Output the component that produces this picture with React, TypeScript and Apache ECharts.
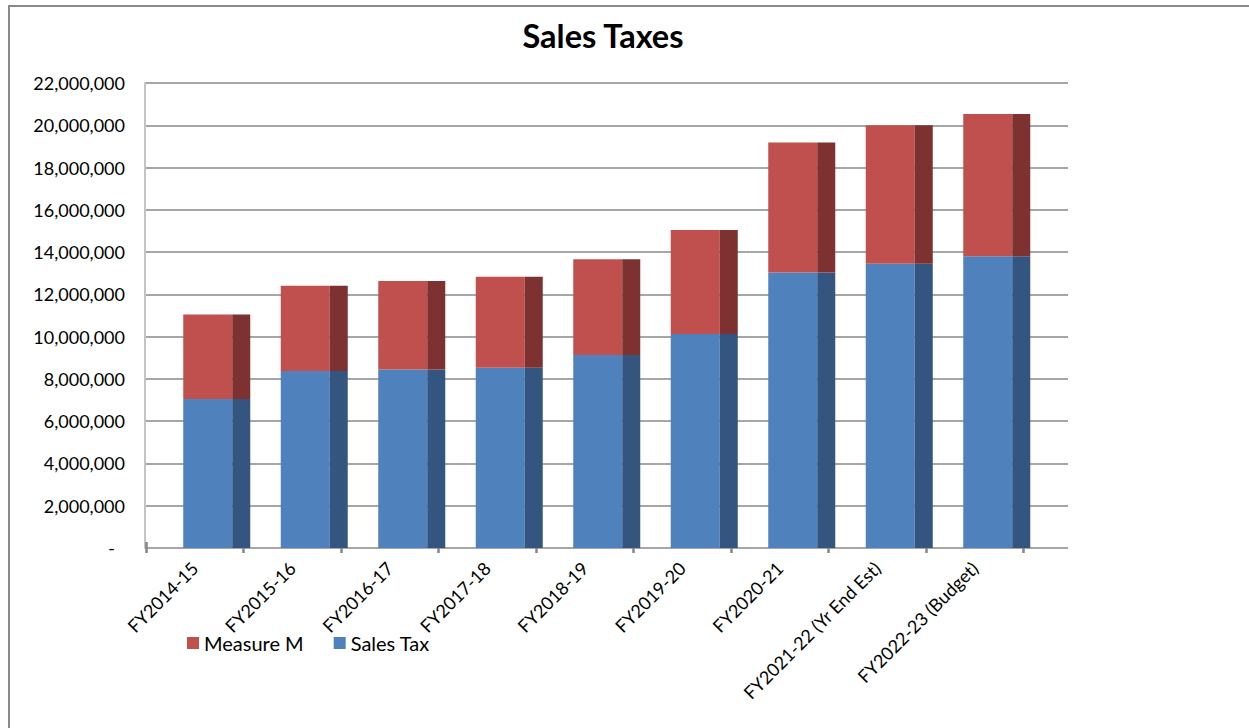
import React, { useEffect, useRef } from "react";
import * as echarts from "echarts";

const categories = [
  "FY2014-15",
  "FY2015-16",
  "FY2016-17",
  "FY2017-18",
  "FY2018-19",
  "FY2019-20",
  "FY2020-21",
  "FY2021-22 (Yr End Est)",
  "FY2022-23 (Budget)",
];
const salesTax = [7050000, 8370000, 8450000, 8530000, 9130000, 10130000, 13040000, 13450000, 13800000];
const measureM = [4000000, 4040000, 4180000, 4300000, 4530000, 4910000, 6150000, 6550000, 6730000];
const yMin = 0;
const yMax = 22000000;
const yStep = 2000000;

const FONT = "Lato";
const RED = "#C0504D";
const RED_SIDE = "#7D3231";
const BLUE = "#4F81BD";
const BLUE_SIDE = "#33557F";

export default function App() {
  const ref = useRef<HTMLDivElement>(null);
  useEffect(() => {
    if (!ref.current) return;
    const chart = echarts.init(ref.current, null, { renderer: "svg" });
    const hiddenY = (gridIndex: number) => ({
      type: "value",
      gridIndex,
      min: yMin,
      max: yMax,
      interval: yStep,
      show: false,
      splitLine: { show: false },
    });
    chart.setOption({
      animation: false,
      backgroundColor: "#ffffff",
      textStyle: { fontFamily: FONT },
      title: {
        text: "Sales Taxes",
        left: 598,
        textAlign: "center",
        top: 14,
        textStyle: { fontFamily: FONT, fontWeight: "bold", fontSize: 32.5, color: "#000" },
      },
      graphic: [
        {
          type: "rect",
          shape: { x: 9, y: 6, width: 1400, height: 900 },
          style: { fill: "none", stroke: "#8a8a8a", lineWidth: 2 },
          silent: true,
        },
      ],
      legend: {
        data: ["Measure M", "Sales Tax"],
        left: 182,
        top: 628,
        itemWidth: 12,
        itemHeight: 12,
        itemGap: 30,
        icon: "rect",
        textStyle: { fontFamily: FONT, fontSize: 20, color: "#000", padding: [0, 0, 0, 0] },
      },
      grid: [
        { left: 145, right: 181, top: 83, bottom: 180 },
        { left: 146, right: 225.5, top: 83, bottom: 180 },
        { left: 168, right: 203.5, top: 83, bottom: 180 },
        { left: 146, right: 225.5, top: 83, bottom: 180 },
      ],
      xAxis: [
        {
          type: "category",
          gridIndex: 0,
          data: categories,
          show: false,
        },
        {
          type: "category",
          gridIndex: 1,
          data: categories,
          axisLine: { show: false },
          axisTick: { show: true, length: 5, lineStyle: { color: "#868686", width: 2.5 } },
          axisLabel: {
            rotate: 45,
            interval: 0,
            margin: 17,
            fontFamily: FONT,
            fontSize: 18,
            color: "#000",
          },
        },
        {
          type: "category",
          gridIndex: 2,
          data: categories,
          show: false,
        },
        {
          type: "category",
          gridIndex: 3,
          data: categories,
          axisLine: { show: false },
          axisTick: { show: true, inside: true, length: 6, lineStyle: { color: "#868686", width: 2.5 } },
          axisLabel: { show: false },
        },
      ],
      yAxis: [
        {
          type: "value",
          gridIndex: 0,
          min: yMin,
          max: yMax,
          interval: yStep,
          axisLine: { show: true, lineStyle: { color: "#c4c4c4", width: 2 } },
          axisTick: { show: false },
          splitLine: { show: true, lineStyle: { color: "#a6a6a6", width: 2 } },
          axisLabel: {
            margin: 20,
            fontFamily: FONT,
            fontSize: 18,
            color: "#000",
            formatter: (v: number) => (v === 0 ? "{z|-}" : v.toLocaleString("en-US")),
            rich: { z: { fontFamily: FONT, fontSize: 18, color: "#000", padding: [0, 10, 0, 0] } },
          },
        },
        hiddenY(1),
        hiddenY(2),
        hiddenY(3),
      ],
      series: [
        {
          name: "Sales Tax",
          type: "bar",
          stack: "front",
          xAxisIndex: 2,
          yAxisIndex: 2,
          barWidth: 49,
          barGap: "0%",
          data: salesTax,
          itemStyle: { color: BLUE },
        },
        {
          name: "Measure M",
          type: "bar",
          stack: "front",
          xAxisIndex: 2,
          yAxisIndex: 2,
          barWidth: 49,
          barGap: "0%",
          data: measureM,
          itemStyle: { color: RED },
        },
        {
          name: "Sales Tax (side)",
          type: "bar",
          stack: "side",
          xAxisIndex: 2,
          yAxisIndex: 2,
          barWidth: 18,
          barGap: "0%",
          data: salesTax,
          itemStyle: { color: BLUE_SIDE },
        },
        {
          name: "Measure M (side)",
          type: "bar",
          stack: "side",
          xAxisIndex: 2,
          yAxisIndex: 2,
          barWidth: 18,
          barGap: "0%",
          data: measureM,
          itemStyle: { color: RED_SIDE },
        },
      ],
    });
    return () => chart.dispose();
  }, []);
  return (
    <div
      ref={ref}
      style={{ position: "absolute", left: 0, top: 0, width: 1249, height: 728 }}
    />
  );
}
